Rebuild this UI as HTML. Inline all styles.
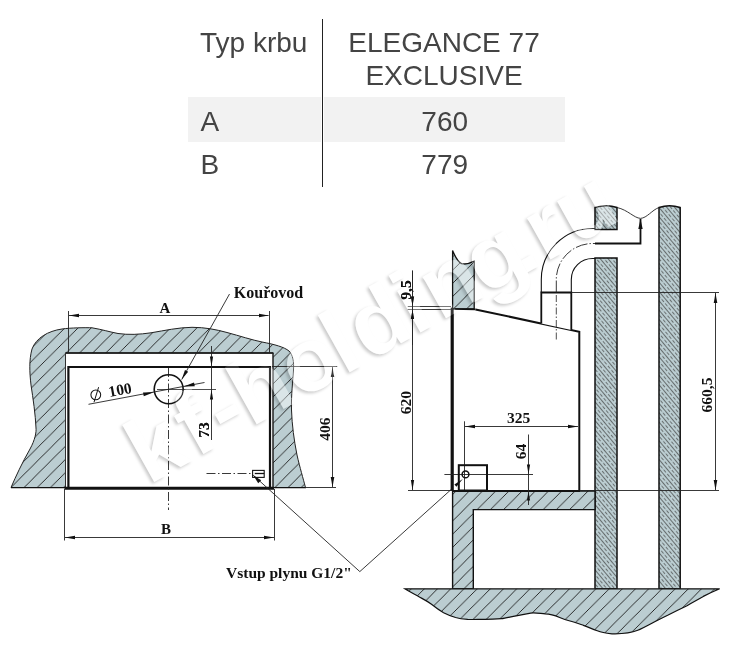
<!DOCTYPE html>
<html><head><meta charset="utf-8">
<style>
html,body{margin:0;padding:0;background:#fff;width:744px;height:654px;overflow:hidden;position:relative}
.t{position:absolute;font-family:"Liberation Sans",sans-serif;font-size:28px;color:#444;line-height:1;white-space:nowrap}
.c{text-align:center;width:240px;left:324px}
.g{position:absolute;background:#f2f2f2;top:97px;height:45px}
svg{position:absolute;left:0;top:0}
.sf{font-family:"Liberation Serif",serif;font-weight:bold;fill:#111}
</style></head><body>
<div class="g" style="left:188px;width:133px"></div>
<div class="g" style="left:324px;width:241px"></div>
<div style="position:absolute;left:322px;top:19px;width:1px;height:168px;background:#222"></div>
<div class="t" style="left:200px;top:29px">Typ krbu</div>
<div class="t c" style="top:29px">ELEGANCE 77</div>
<div class="t c" style="top:62px">EXCLUSIVE</div>
<div class="t" style="left:200.5px;top:107.5px">A</div>
<div class="t c" style="top:107.5px;left:324.7px">760</div>
<div class="t" style="left:200.5px;top:151px">B</div>
<div class="t c" style="top:151px;left:324.7px">779</div>

<svg width="744" height="654" viewBox="0 0 744 654">
<defs>
<pattern id="h1" patternUnits="userSpaceOnUse" width="13.2" height="13.2" x="10">
<rect width="13.2" height="13.2" fill="#bbcdd1"/>
<path d="M-1,1 L1,-1 M0,13.2 L13.2,0 M12.2,14.2 L14.2,12.2" stroke="#1a1a1a" stroke-width="0.9"/>
</pattern>
<pattern id="h2" patternUnits="userSpaceOnUse" width="11" height="6" patternTransform="rotate(50)">
<rect x="-1" y="-1" width="14" height="8" fill="#bbcdd1"/>
<line x1="0" y1="0.5" x2="11" y2="0.5" stroke="#2a2a2a" stroke-width="0.6"/>
<line x1="0" y1="3.5" x2="11" y2="3.5" stroke="#333" stroke-width="0.6" stroke-dasharray="3.5,2"/>
</pattern>
<marker id="ar" viewBox="0 0 10 6" refX="10" refY="3" markerWidth="10" markerHeight="6" orient="auto-start-reverse" markerUnits="userSpaceOnUse">
<path d="M0,1.2 L10,3 L0,4.8 Z" fill="#111"/>
</marker>
</defs>

<!-- ===== LEFT FRONT VIEW ===== -->
<path fill="url(#h1)" fill-rule="evenodd" stroke="#222" stroke-width="1"
 d="M11,487.5 C16,476 22,463 30,449 C35,440 36.5,432 36,428 C35.5,415 33,398 31,385 C29.5,372 29,360 32,349 C36,338 48,331 62,329 C70,327.8 86,327.5 92,327.8 C102,329.5 110,332 118,333.5 C128,335 140,334.5 151,332.8 C165,330.5 178,327.5 192,327.3 C205,327.3 216,329.5 227,332.5 C240,336 252,340 262,342 C275,344.5 284,347 289,351 C293,355 294,362 293.5,370 C293,380 291,395 291.5,410 C292,425 294,440 297,455 C300,468 303,478 305.5,487.5 Z
 M65.5,353 L65.5,487.5 L273,487.5 L273,353 Z"/>
<!-- opening top edge -->
<line x1="65.5" y1="353" x2="273.5" y2="353" stroke="#111" stroke-width="1.6"/>
<line x1="273" y1="353" x2="273" y2="488" stroke="#222" stroke-width="1"/>
<line x1="65.5" y1="353" x2="65.5" y2="488" stroke="#333" stroke-width="0.8"/>
<!-- floor baseline left -->
<line x1="11" y1="487.6" x2="65" y2="487.6" stroke="#111" stroke-width="1.4"/>
<line x1="272" y1="487.6" x2="306" y2="487.6" stroke="#111" stroke-width="1.4"/>
<!-- fireplace body -->
<path d="M68.4,488.3 L68.4,367 L270,367 L270,488.3" fill="none" stroke="#111" stroke-width="2.2"/>
<line x1="64.5" y1="488.3" x2="274" y2="488.3" stroke="#111" stroke-width="3"/>

<!-- dim A -->
<line x1="68.5" y1="311" x2="68.5" y2="353" stroke="#222" stroke-width="0.9"/>
<line x1="269.5" y1="311" x2="269.5" y2="353" stroke="#222" stroke-width="0.9"/>
<line x1="69" y1="315.5" x2="268.6" y2="315.5" stroke="#222" stroke-width="0.9" marker-start="url(#ar)" marker-end="url(#ar)"/>
<text class="sf" x="165" y="312.8" font-size="15" text-anchor="middle">A</text>

<!-- dim B -->
<line x1="64.5" y1="489" x2="64.5" y2="540.5" stroke="#222" stroke-width="0.9"/>
<line x1="274.5" y1="489" x2="274.5" y2="540.5" stroke="#222" stroke-width="0.9"/>
<line x1="65" y1="537.5" x2="274" y2="537.5" stroke="#222" stroke-width="0.9" marker-start="url(#ar)" marker-end="url(#ar)"/>
<text class="sf" x="166" y="533.8" font-size="15" text-anchor="middle">B</text>

<!-- center line -->
<line x1="168.5" y1="368" x2="168.5" y2="510" stroke="#222" stroke-width="0.9" stroke-dasharray="9,2.5,1.5,2.5"/>
<!-- flue circle -->
<circle cx="168.7" cy="389.2" r="14.5" fill="none" stroke="#111" stroke-width="1.6"/>
<line x1="157" y1="389.5" x2="216" y2="389.5" stroke="#222" stroke-width="0.8"/>
<!-- diameter leader -->
<line x1="88.5" y1="404.3" x2="204.5" y2="382.5" stroke="#222" stroke-width="0.9"/>
<path d="M153.8,392.2 L143,392.5 L143.8,396.3 Z" fill="#111"/>
<path d="M183.6,386.5 L194,382.4 L194.8,386.3 Z" fill="#111"/>
<circle cx="95.8" cy="394.8" r="4.9" fill="none" stroke="#111" stroke-width="1.05"/>
<line x1="98.6" y1="387.2" x2="94" y2="402.2" stroke="#111" stroke-width="1"/>
<g transform="translate(90,401.5) rotate(-10.6)">
<text class="sf" x="20" y="-0.8" font-size="15.5">100</text>
</g>

<!-- Kourovod leader -->
<text class="sf" x="233.8" y="297.8" font-size="16">Kouřovod</text>
<line x1="229.5" y1="294" x2="181.7" y2="379.6" stroke="#222" stroke-width="0.9" marker-end="url(#ar)"/>

<!-- dim 73 -->
<line x1="211.5" y1="346" x2="211.5" y2="440" stroke="#222" stroke-width="0.9"/>
<path d="M211.5,366.5 L209.9,356.5 L213.1,356.5 Z" fill="#111"/>
<path d="M211.5,389.8 L209.9,399.5 L213.1,399.5 Z" fill="#111"/>
<text class="sf" transform="translate(208.6,430) rotate(-90)" font-size="15.5" text-anchor="middle">73</text>

<!-- dim 406 -->
<line x1="272" y1="366.5" x2="337.2" y2="366.5" stroke="#222" stroke-width="0.9"/>
<line x1="305" y1="487.5" x2="336" y2="487.5" stroke="#222" stroke-width="0.9"/>
<line x1="332.5" y1="367" x2="332.5" y2="487" stroke="#222" stroke-width="0.9" marker-start="url(#ar)" marker-end="url(#ar)"/>
<text class="sf" transform="translate(330,429) rotate(-90)" font-size="15.5" text-anchor="middle">406</text>

<!-- gas inlet left -->
<line x1="206.5" y1="473.5" x2="251.8" y2="473.5" stroke="#222" stroke-width="0.9" stroke-dasharray="9,2.5,1.5,2.5"/>
<rect x="252.6" y="470.4" width="11.6" height="7" fill="#fff" stroke="#111" stroke-width="1.1"/>
<line x1="254.8" y1="473.5" x2="264.2" y2="473.5" stroke="#111" stroke-width="1.3"/>

<!-- Vstup plynu leaders -->
<polyline points="253.2,475.2 359.8,571.6 462.6,479.2" fill="none" stroke="#222" stroke-width="0.9"/>
<path d="M253.2,475.2 L258.2,483.2 L261.2,480.2 Z" fill="#111"/>
<text class="sf" x="226" y="577.8" font-size="15.5">Vstup plynu G1/2"</text>

<!-- ===== RIGHT SECTION VIEW ===== -->
<!-- wall above fireplace -->
<path fill="url(#h1)" stroke="#111" stroke-width="1.3"
 d="M452.6,309 L452.6,250.5 C455,256 457,261.5 461.5,263.6 C465,264.6 470,263.4 474.2,261.2 L474.2,309 Z"/>
<!-- chimney walls -->
<path fill="url(#h2)" stroke="#111" stroke-width="1.5" d="M595,229.4 L595,207.5 C603,205 610,205 617,207.5 L617,229.4 Z"/>
<path fill="url(#h2)" stroke="#111" stroke-width="1.5" d="M595,588.8 L595,257.9 L617,257.9 L617,588.8 Z"/>
<path fill="url(#h2)" stroke="#111" stroke-width="1.5" d="M659,588.8 L659,207.5 C666,205 673,205 680.2,207.5 L680.2,588.8 Z"/>
<path fill="none" stroke="#222" stroke-width="0.9" d="M617,207.5 C628,210 634,218 640.5,218.4 C647,218 652,210 659,207.5"/>
<!-- base -->
<path fill="url(#h1)" fill-rule="evenodd" stroke="#111" stroke-width="1.4"
 d="M452.6,588.8 L452.6,491 L595,491 L595,509.6 L473.3,509.6 L473.3,588.8 Z"/>
<!-- floor -->
<path fill="url(#h1)" stroke="#111" stroke-width="1.2"
 d="M404.8,588.8 L719.7,588.8 C712,592 708,594 703.3,596.4 C695,601 690,604 687,605.7 C680,609 674,612 668.2,615 C660,619 656,621 651.9,623.3 C645,627 640,629.5 637.8,630.3 C630,633.5 620,634 612,633.8 C604,633 600,632 598,631 C592,629 588,627 584,625.6 C578,623.5 574,622 570,621 C566,620 562,618.5 559.7,617.5 C555,615.5 550,614 545.2,613.9 C540,613.5 535,612.5 530.7,613.1 C525,614 520,615 516.1,615.8 C510,617 505,618.5 501.6,618.7 C495,619.2 490,619.4 484.7,619.4 C478,619.4 472,619.6 467.7,619.4 C462,619 459,618.5 455.6,617.5 C451,616 447,614.5 443.6,612.7 C439,610 435,607 431.5,604.2 C427,601 423,599 419.4,597 C414,594 409,591.5 404.8,588.8 Z"/>

<!-- fireplace body -->
<path d="M452,309 L475.5,309.4 L579.3,331.7 L579.3,491 L452,491 Z" fill="#fff" stroke="none"/>
<path d="M475.5,309.4 L579.3,331.7 L579.3,491" fill="none" stroke="#111" stroke-width="2"/>
<line x1="452" y1="309" x2="475.5" y2="309.4" stroke="#111" stroke-width="1.6"/>
<line x1="452.2" y1="307.5" x2="452.2" y2="491" stroke="#111" stroke-width="3.2"/>
<line x1="452" y1="491" x2="580" y2="491" stroke="#111" stroke-width="1.8"/>

<!-- flue collar -->
<path d="M541.3,323.5 L541.3,292.5 L571.3,292.5 L571.3,330" fill="#fff" stroke="#111" stroke-width="1.8"/>
<line x1="556.3" y1="295" x2="556.3" y2="341" stroke="#222" stroke-width="0.8" stroke-dasharray="7,2,1.5,2"/>
<!-- flue pipe -->
<path d="M541.3,292.5 L541.3,279.5 A51.3,51 0 0 1 592.6,228.5 L595,228.5" fill="none" stroke="#111" stroke-width="1.1"/>
<path d="M571.3,292.5 L571.3,279.5 A21.3,21 0 0 1 592.6,258.5 L595,258.5" fill="none" stroke="#111" stroke-width="1.1"/>
<path d="M556.3,292.5 L556.3,279.5 A36.3,36 0 0 1 592.6,243.5 L596,243.5" fill="none" stroke="#222" stroke-width="0.9" stroke-dasharray="12,2,1.5,2"/>
<path d="M595,243.5 L640.5,243.5 L640.5,219" fill="none" stroke="#111" stroke-width="1.8"/>
<path d="M640.5,219 L638.3,229 L642.7,229 Z" fill="#111"/>

<!-- dimension lines right -->
<line x1="571.3" y1="292.5" x2="719" y2="292.5" stroke="#222" stroke-width="0.9"/>
<line x1="580" y1="490.5" x2="719" y2="490.5" stroke="#222" stroke-width="0.9"/>
<line x1="715.5" y1="293" x2="715.5" y2="490" stroke="#222" stroke-width="0.9" marker-start="url(#ar)" marker-end="url(#ar)"/>
<text class="sf" transform="translate(712,395) rotate(-90)" font-size="15.5" text-anchor="middle">660,5</text>

<!-- 9,5 and 620 -->
<line x1="412.5" y1="270.6" x2="412.5" y2="490" stroke="#222" stroke-width="0.9"/>
<line x1="407.7" y1="306.5" x2="451" y2="306.5" stroke="#222" stroke-width="0.9"/>
<line x1="407.7" y1="309.5" x2="451" y2="309.5" stroke="#222" stroke-width="0.9"/>
<line x1="408" y1="490.5" x2="452" y2="490.5" stroke="#222" stroke-width="0.9"/>
<path d="M412.5,306 L410.9,296.5 L414.1,296.5 Z" fill="#111"/>
<path d="M412.5,309.8 L410.9,319 L414.1,319 Z" fill="#111"/>
<path d="M412.5,490.2 L410.9,480 L414.1,480 Z" fill="#111"/>
<text class="sf" transform="translate(410.8,290) rotate(-90)" font-size="15.5" text-anchor="middle">9,5</text>
<text class="sf" transform="translate(411,402.7) rotate(-90)" font-size="15.5" text-anchor="middle">620</text>

<!-- 325 -->
<line x1="464.5" y1="421.3" x2="464.5" y2="490" stroke="#222" stroke-width="0.9"/>
<line x1="465" y1="426.5" x2="578" y2="426.5" stroke="#222" stroke-width="0.9" marker-start="url(#ar)" marker-end="url(#ar)"/>
<text class="sf" x="518.5" y="422.5" font-size="15.5" text-anchor="middle">325</text>

<!-- 64 -->
<line x1="444.4" y1="474.5" x2="533" y2="474.5" stroke="#222" stroke-width="0.9"/>
<line x1="528.5" y1="434.5" x2="528.5" y2="505" stroke="#222" stroke-width="0.9"/>
<path d="M528.5,474.2 L526.9,464.6 L530.1,464.6 Z" fill="#111"/>
<path d="M528.5,491.5 L526.9,500.5 L530.1,500.5 Z" fill="#111"/>
<text class="sf" transform="translate(526,451.5) rotate(-90)" font-size="15.5" text-anchor="middle">64</text>

<!-- gas box right -->
<rect x="458.8" y="465.2" width="28.2" height="25.3" fill="none" stroke="#111" stroke-width="2"/>
<circle cx="465.5" cy="474.4" r="3.4" fill="none" stroke="#111" stroke-width="1.5"/>
<path d="M462.8,479 L456.4,486.8 L454.4,484.6 Z" fill="#111"/>
<!-- watermark -->
<filter id="sh" x="-5%" y="-5%" width="110%" height="110%" color-interpolation-filters="sRGB">
<feGaussianBlur in="SourceAlpha" stdDeviation="1.4" result="b"/>
<feOffset in="b" dx="-1.6" dy="1.8" result="o"/>
<feComposite in="o" in2="SourceAlpha" operator="out" result="s"/>
<feFlood flood-color="#000" flood-opacity="0.2"/>
<feComposite in2="s" operator="in"/>
</filter>
<g font-family="Liberation Sans" font-weight="bold" font-size="90" letter-spacing="1.2">
<g filter="url(#sh)"><text transform="translate(148.8,484.9) rotate(-29.3)" fill="#000" dx="0 3 3 -2 -1 -5 2 -3 3 -5 -14 0 -1">kf-holding.ru</text></g>
<text transform="translate(148.8,484.9) rotate(-29.3)" fill="#fff" style="mix-blend-mode:soft-light" dx="0 3 3 -2 -1 -5 2 -3 3 -5 -14 0 -1">kf-holding.ru</text>
</g>
<!-- labels redrawn above watermark -->
<text class="sf" transform="translate(208.6,430) rotate(-90)" font-size="15.5" text-anchor="middle">73</text>
<text class="sf" transform="translate(410.8,290) rotate(-90)" font-size="15.5" text-anchor="middle">9,5</text>
<line x1="412.5" y1="270.6" x2="412.5" y2="345" stroke="#222" stroke-width="0.9"/>
<path d="M412.5,306 L410.9,296.5 L414.1,296.5 Z" fill="#111"/>
<path d="M412.5,309.8 L410.9,319 L414.1,319 Z" fill="#111"/>
</svg>
</body></html>
